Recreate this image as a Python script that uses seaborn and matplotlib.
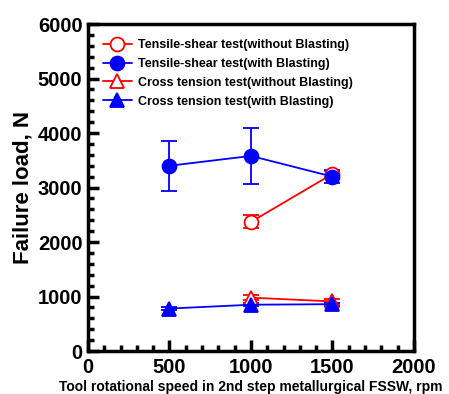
import numpy as np
import pandas as pd
import matplotlib
matplotlib.use("Agg")
import matplotlib.pyplot as plt
import seaborn as sns
from matplotlib.ticker import MultipleLocator

# speeds (rpm)
speed_nb = [1000, 1500]
speed_b = [500, 1000, 1500]

ts_nb = [2370, 3250]
ts_nb_err = [120, 60]
ts_b = [3400, 3580, 3200]
ts_b_err = [460, 520, 120]
ct_nb = [980, 910]
ct_nb_err = [50, 40]
ct_b = [780, 850, 860]
ct_b_err = [20, 30, 30]

labels = [
    "Tensile-shear test(without Blasting)",
    "Tensile-shear test(with Blasting)",
    "Cross tension test(without Blasting)",
    "Cross tension test(with Blasting)",
]

sns.set_style("ticks")
plt.rcParams["font.family"] = ["Liberation Sans", "DejaVu Sans"]
plt.rcParams["font.weight"] = "bold"
plt.rcParams["text.color"] = "black"
plt.rcParams["axes.labelcolor"] = "black"
plt.rcParams["xtick.color"] = "black"
plt.rcParams["ytick.color"] = "black"

fig = plt.figure(figsize=(4.49, 3.94), dpi=100)
ax = fig.add_axes([0.196, 0.109, 0.726, 0.830])

series = [
    (speed_nb, ts_nb, ts_nb_err, "red", "o", "white", labels[0]),
    (speed_b, ts_b, ts_b_err, "blue", "o", "blue", labels[1]),
    (speed_nb, ct_nb, ct_nb_err, "red", "^", "white", labels[2]),
    (speed_b, ct_b, ct_b_err, "blue", "^", "blue", labels[3]),
]

for x, y, e, c, m, fc, lab in series:
    df = pd.DataFrame({"x": x, "y": y})
    ax.errorbar(x, y, yerr=e, fmt="none", ecolor=c, elinewidth=1.3,
                capsize=5.5, capthick=1.3, zorder=2)
    sns.lineplot(data=df, x="x", y="y", ax=ax, color=c, marker=m,
                 markersize=10, markerfacecolor=fc, markeredgecolor=c,
                 markeredgewidth=1.3, linewidth=1.3, label=lab, zorder=3)

ax.set_xlim(0, 2000)
ax.set_ylim(0, 6000)
ax.xaxis.set_major_locator(MultipleLocator(500))
ax.xaxis.set_minor_locator(MultipleLocator(100))
ax.yaxis.set_major_locator(MultipleLocator(1000))
ax.yaxis.set_minor_locator(MultipleLocator(200))
ax.tick_params(axis="both", which="major", direction="in", length=8, width=2.5,
               labelsize=14.5, colors="black")
ax.tick_params(axis="x", which="major", pad=5)
ax.tick_params(axis="y", which="major", pad=4)
ax.tick_params(axis="both", which="minor", direction="in", length=4, width=2.5,
               colors="black")
for lab in ax.get_xticklabels() + ax.get_yticklabels():
    lab.set_fontweight("bold")
for s in ax.spines.values():
    s.set_linewidth(2.5)
    s.set_color("black")
    s.set_visible(True)

ax.set_xlabel("Tool rotational speed in 2nd step metallurgical FSSW, rpm",
              fontsize=10, fontweight="bold", labelpad=2)
ax.set_ylabel("Failure load, N", fontsize=16, fontweight="bold", labelpad=3)

leg = ax.legend(loc="upper left", frameon=False, fontsize=9, handlelength=2.3,
                borderaxespad=0.8, labelspacing=0.55, handletextpad=0.5)
for t in leg.get_texts():
    t.set_fontweight("bold")

fig.savefig("out.png", dpi=100)
